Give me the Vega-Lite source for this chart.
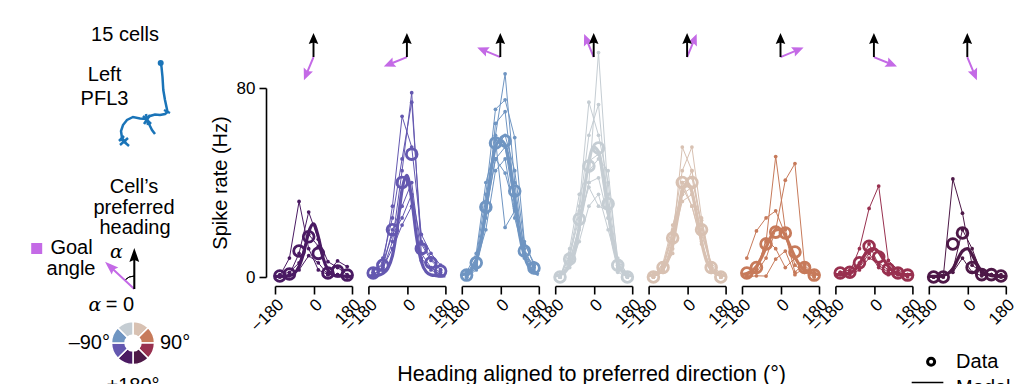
{
  "$schema": "https://vega.github.io/schema/vega-lite/v6.json",
  "background": "white",
  "padding": {"left": 0, "top": 24, "right": 0, "bottom": 0},
  "bounds": "flush",
  "spacing": 35,
  "resolve": {"scale": {"x": "independent", "y": "independent", "color": "independent"}},
  "config": {
    "font": "Liberation Sans",
    "view": {"stroke": null},
    "axis": {"domainColor": "black", "tickColor": "black", "labelColor": "black", "titleColor": "black", "domainWidth": 1.6, "tickWidth": 1.6, "grid": false, "labelFont": "Liberation Sans", "titleFont": "Liberation Sans", "titleFontWeight": "normal"},
    "axisX": {"labelAngle": -45, "labelFontSize": 17, "tickSize": 8, "labelPadding": 2, "offset": 9, "labelFlush": false, "labelOverlap": false},
    "axisY": {"titleFontSize": 20, "labelFontSize": 17, "tickSize": 7, "labelPadding": 4, "titlePadding": 6, "offset": 9, "labelFlush": false},
    "text": {"font": "Liberation Sans", "fontSize": 20, "color": "black"}
  },
  "datasets": {
    "main": [
      {"kind":"cell","p":1,"k":1,"h":-157.5,"r":0.5},{"kind":"cell","p":1,"k":1,"h":-112.5,"r":8},{"kind":"cell","p":1,"k":1,"h":-67.5,"r":32},{"kind":"cell","p":1,"k":1,"h":-22.5,"r":12},{"kind":"cell","p":1,"k":1,"h":22.5,"r":3},{"kind":"cell","p":1,"k":1,"h":67.5,"r":1},{"kind":"cell","p":1,"k":1,"h":112.5,"r":1},{"kind":"cell","p":1,"k":1,"h":157.5,"r":0},
      {"kind":"cell","p":1,"k":2,"h":-157.5,"r":0},{"kind":"cell","p":1,"k":2,"h":-112.5,"r":1},{"kind":"cell","p":1,"k":2,"h":-67.5,"r":10},{"kind":"cell","p":1,"k":2,"h":-22.5,"r":27.5},{"kind":"cell","p":1,"k":2,"h":22.5,"r":16},{"kind":"cell","p":1,"k":2,"h":67.5,"r":6.5},{"kind":"cell","p":1,"k":2,"h":112.5,"r":4},{"kind":"cell","p":1,"k":2,"h":157.5,"r":1},
      {"kind":"cell","p":1,"k":3,"h":-157.5,"r":1},{"kind":"cell","p":1,"k":3,"h":-112.5,"r":2},{"kind":"cell","p":1,"k":3,"h":-67.5,"r":6},{"kind":"cell","p":1,"k":3,"h":-22.5,"r":18},{"kind":"cell","p":1,"k":3,"h":22.5,"r":13},{"kind":"cell","p":1,"k":3,"h":67.5,"r":2},{"kind":"cell","p":1,"k":3,"h":112.5,"r":6.8},{"kind":"cell","p":1,"k":3,"h":157.5,"r":4.4},
      {"kind":"cell","p":1,"k":4,"h":-157.5,"r":0},{"kind":"cell","p":1,"k":4,"h":-112.5,"r":0.5},{"kind":"cell","p":1,"k":4,"h":-67.5,"r":3},{"kind":"cell","p":1,"k":4,"h":-22.5,"r":9},{"kind":"cell","p":1,"k":4,"h":22.5,"r":6},{"kind":"cell","p":1,"k":4,"h":67.5,"r":1},{"kind":"cell","p":1,"k":4,"h":112.5,"r":1},{"kind":"cell","p":1,"k":4,"h":157.5,"r":0},
      {"kind":"cell","p":2,"k":1,"h":-157.5,"r":1},{"kind":"cell","p":2,"k":1,"h":-112.5,"r":3},{"kind":"cell","p":2,"k":1,"h":-67.5,"r":15},{"kind":"cell","p":2,"k":1,"h":-22.5,"r":45},{"kind":"cell","p":2,"k":1,"h":22.5,"r":78},{"kind":"cell","p":2,"k":1,"h":67.5,"r":10},{"kind":"cell","p":2,"k":1,"h":112.5,"r":4},{"kind":"cell","p":2,"k":1,"h":157.5,"r":2},
      {"kind":"cell","p":2,"k":2,"h":-157.5,"r":2},{"kind":"cell","p":2,"k":2,"h":-112.5,"r":8},{"kind":"cell","p":2,"k":2,"h":-67.5,"r":25},{"kind":"cell","p":2,"k":2,"h":-22.5,"r":50},{"kind":"cell","p":2,"k":2,"h":22.5,"r":74},{"kind":"cell","p":2,"k":2,"h":67.5,"r":15},{"kind":"cell","p":2,"k":2,"h":112.5,"r":8},{"kind":"cell","p":2,"k":2,"h":157.5,"r":3},
      {"kind":"cell","p":2,"k":3,"h":-157.5,"r":3},{"kind":"cell","p":2,"k":3,"h":-112.5,"r":5},{"kind":"cell","p":2,"k":3,"h":-67.5,"r":30},{"kind":"cell","p":2,"k":3,"h":-22.5,"r":68},{"kind":"cell","p":2,"k":3,"h":22.5,"r":55},{"kind":"cell","p":2,"k":3,"h":67.5,"r":18},{"kind":"cell","p":2,"k":3,"h":112.5,"r":10},{"kind":"cell","p":2,"k":3,"h":157.5,"r":5},
      {"kind":"cell","p":2,"k":4,"h":-157.5,"r":1},{"kind":"cell","p":2,"k":4,"h":-112.5,"r":4},{"kind":"cell","p":2,"k":4,"h":-67.5,"r":20},{"kind":"cell","p":2,"k":4,"h":-22.5,"r":30},{"kind":"cell","p":2,"k":4,"h":22.5,"r":40},{"kind":"cell","p":2,"k":4,"h":67.5,"r":8},{"kind":"cell","p":2,"k":4,"h":112.5,"r":3},{"kind":"cell","p":2,"k":4,"h":157.5,"r":1},
      {"kind":"cell","p":2,"k":5,"h":-157.5,"r":2},{"kind":"cell","p":2,"k":5,"h":-112.5,"r":6},{"kind":"cell","p":2,"k":5,"h":-67.5,"r":18},{"kind":"cell","p":2,"k":5,"h":-22.5,"r":25},{"kind":"cell","p":2,"k":5,"h":22.5,"r":35},{"kind":"cell","p":2,"k":5,"h":67.5,"r":14},{"kind":"cell","p":2,"k":5,"h":112.5,"r":7},{"kind":"cell","p":2,"k":5,"h":157.5,"r":3},
      {"kind":"cell","p":2,"k":6,"h":-157.5,"r":1},{"kind":"cell","p":2,"k":6,"h":-112.5,"r":4},{"kind":"cell","p":2,"k":6,"h":-67.5,"r":12},{"kind":"cell","p":2,"k":6,"h":-22.5,"r":22},{"kind":"cell","p":2,"k":6,"h":22.5,"r":30},{"kind":"cell","p":2,"k":6,"h":67.5,"r":7},{"kind":"cell","p":2,"k":6,"h":112.5,"r":4},{"kind":"cell","p":2,"k":6,"h":157.5,"r":1},
      {"kind":"cell","p":3,"k":1,"h":-157.5,"r":0},{"kind":"cell","p":3,"k":1,"h":-112.5,"r":5},{"kind":"cell","p":3,"k":1,"h":-67.5,"r":30},{"kind":"cell","p":3,"k":1,"h":-22.5,"r":60},{"kind":"cell","p":3,"k":1,"h":22.5,"r":86},{"kind":"cell","p":3,"k":1,"h":67.5,"r":40},{"kind":"cell","p":3,"k":1,"h":112.5,"r":10},{"kind":"cell","p":3,"k":1,"h":157.5,"r":2},
      {"kind":"cell","p":3,"k":2,"h":-157.5,"r":1},{"kind":"cell","p":3,"k":2,"h":-112.5,"r":8},{"kind":"cell","p":3,"k":2,"h":-67.5,"r":35},{"kind":"cell","p":3,"k":2,"h":-22.5,"r":71},{"kind":"cell","p":3,"k":2,"h":22.5,"r":75},{"kind":"cell","p":3,"k":2,"h":67.5,"r":59},{"kind":"cell","p":3,"k":2,"h":112.5,"r":15},{"kind":"cell","p":3,"k":2,"h":157.5,"r":5},
      {"kind":"cell","p":3,"k":3,"h":-157.5,"r":0},{"kind":"cell","p":3,"k":3,"h":-112.5,"r":4},{"kind":"cell","p":3,"k":3,"h":-67.5,"r":25},{"kind":"cell","p":3,"k":3,"h":-22.5,"r":65},{"kind":"cell","p":3,"k":3,"h":22.5,"r":70},{"kind":"cell","p":3,"k":3,"h":67.5,"r":35},{"kind":"cell","p":3,"k":3,"h":112.5,"r":12},{"kind":"cell","p":3,"k":3,"h":157.5,"r":3},
      {"kind":"cell","p":3,"k":4,"h":-157.5,"r":2},{"kind":"cell","p":3,"k":4,"h":-112.5,"r":10},{"kind":"cell","p":3,"k":4,"h":-67.5,"r":40},{"kind":"cell","p":3,"k":4,"h":-22.5,"r":55},{"kind":"cell","p":3,"k":4,"h":22.5,"r":60},{"kind":"cell","p":3,"k":4,"h":67.5,"r":45},{"kind":"cell","p":3,"k":4,"h":112.5,"r":14},{"kind":"cell","p":3,"k":4,"h":157.5,"r":6},
      {"kind":"cell","p":3,"k":5,"h":-157.5,"r":0},{"kind":"cell","p":3,"k":5,"h":-112.5,"r":3},{"kind":"cell","p":3,"k":5,"h":-67.5,"r":28},{"kind":"cell","p":3,"k":5,"h":-22.5,"r":50},{"kind":"cell","p":3,"k":5,"h":22.5,"r":55},{"kind":"cell","p":3,"k":5,"h":67.5,"r":30},{"kind":"cell","p":3,"k":5,"h":112.5,"r":8},{"kind":"cell","p":3,"k":5,"h":157.5,"r":2},
      {"kind":"cell","p":3,"k":6,"h":-157.5,"r":1},{"kind":"cell","p":3,"k":6,"h":-112.5,"r":6},{"kind":"cell","p":3,"k":6,"h":-67.5,"r":20},{"kind":"cell","p":3,"k":6,"h":-22.5,"r":45},{"kind":"cell","p":3,"k":6,"h":22.5,"r":50},{"kind":"cell","p":3,"k":6,"h":67.5,"r":25},{"kind":"cell","p":3,"k":6,"h":112.5,"r":9},{"kind":"cell","p":3,"k":6,"h":157.5,"r":4},
      {"kind":"cell","p":3,"k":7,"h":-157.5,"r":0},{"kind":"cell","p":3,"k":7,"h":-112.5,"r":4},{"kind":"cell","p":3,"k":7,"h":-67.5,"r":32},{"kind":"cell","p":3,"k":7,"h":-22.5,"r":58},{"kind":"cell","p":3,"k":7,"h":22.5,"r":21},{"kind":"cell","p":3,"k":7,"h":67.5,"r":28},{"kind":"cell","p":3,"k":7,"h":112.5,"r":10},{"kind":"cell","p":3,"k":7,"h":157.5,"r":5},
      {"kind":"cell","p":3,"k":8,"h":-157.5,"r":1},{"kind":"cell","p":3,"k":8,"h":-112.5,"r":8},{"kind":"cell","p":3,"k":8,"h":-67.5,"r":27},{"kind":"cell","p":3,"k":8,"h":-22.5,"r":50},{"kind":"cell","p":3,"k":8,"h":22.5,"r":44},{"kind":"cell","p":3,"k":8,"h":67.5,"r":29},{"kind":"cell","p":3,"k":8,"h":112.5,"r":10},{"kind":"cell","p":3,"k":8,"h":157.5,"r":4},
      {"kind":"cell","p":4,"k":1,"h":-157.5,"r":0},{"kind":"cell","p":4,"k":1,"h":-112.5,"r":5},{"kind":"cell","p":4,"k":1,"h":-67.5,"r":20},{"kind":"cell","p":4,"k":1,"h":-22.5,"r":40},{"kind":"cell","p":4,"k":1,"h":22.5,"r":95},{"kind":"cell","p":4,"k":1,"h":67.5,"r":35},{"kind":"cell","p":4,"k":1,"h":112.5,"r":5},{"kind":"cell","p":4,"k":1,"h":157.5,"r":0},
      {"kind":"cell","p":4,"k":2,"h":-157.5,"r":0},{"kind":"cell","p":4,"k":2,"h":-112.5,"r":10},{"kind":"cell","p":4,"k":2,"h":-67.5,"r":30},{"kind":"cell","p":4,"k":2,"h":-22.5,"r":74},{"kind":"cell","p":4,"k":2,"h":22.5,"r":60},{"kind":"cell","p":4,"k":2,"h":67.5,"r":40},{"kind":"cell","p":4,"k":2,"h":112.5,"r":8},{"kind":"cell","p":4,"k":2,"h":157.5,"r":1},
      {"kind":"cell","p":4,"k":3,"h":-157.5,"r":1},{"kind":"cell","p":4,"k":3,"h":-112.5,"r":8},{"kind":"cell","p":4,"k":3,"h":-67.5,"r":28},{"kind":"cell","p":4,"k":3,"h":-22.5,"r":60},{"kind":"cell","p":4,"k":3,"h":22.5,"r":73},{"kind":"cell","p":4,"k":3,"h":67.5,"r":30},{"kind":"cell","p":4,"k":3,"h":112.5,"r":4},{"kind":"cell","p":4,"k":3,"h":157.5,"r":0},
      {"kind":"cell","p":4,"k":4,"h":-157.5,"r":0},{"kind":"cell","p":4,"k":4,"h":-112.5,"r":12},{"kind":"cell","p":4,"k":4,"h":-67.5,"r":35},{"kind":"cell","p":4,"k":4,"h":-22.5,"r":45},{"kind":"cell","p":4,"k":4,"h":22.5,"r":50},{"kind":"cell","p":4,"k":4,"h":67.5,"r":45},{"kind":"cell","p":4,"k":4,"h":112.5,"r":6},{"kind":"cell","p":4,"k":4,"h":157.5,"r":0},
      {"kind":"cell","p":4,"k":5,"h":-157.5,"r":0},{"kind":"cell","p":4,"k":5,"h":-112.5,"r":6},{"kind":"cell","p":4,"k":5,"h":-67.5,"r":22},{"kind":"cell","p":4,"k":5,"h":-22.5,"r":40},{"kind":"cell","p":4,"k":5,"h":22.5,"r":42},{"kind":"cell","p":4,"k":5,"h":67.5,"r":25},{"kind":"cell","p":4,"k":5,"h":112.5,"r":3},{"kind":"cell","p":4,"k":5,"h":157.5,"r":0},
      {"kind":"cell","p":4,"k":6,"h":-157.5,"r":0},{"kind":"cell","p":4,"k":6,"h":-112.5,"r":4},{"kind":"cell","p":4,"k":6,"h":-67.5,"r":15},{"kind":"cell","p":4,"k":6,"h":-22.5,"r":30},{"kind":"cell","p":4,"k":6,"h":22.5,"r":35},{"kind":"cell","p":4,"k":6,"h":67.5,"r":20},{"kind":"cell","p":4,"k":6,"h":112.5,"r":5},{"kind":"cell","p":4,"k":6,"h":157.5,"r":0},
      {"kind":"cell","p":4,"k":7,"h":-157.5,"r":0},{"kind":"cell","p":4,"k":7,"h":-112.5,"r":9},{"kind":"cell","p":4,"k":7,"h":-67.5,"r":25},{"kind":"cell","p":4,"k":7,"h":-22.5,"r":38},{"kind":"cell","p":4,"k":7,"h":22.5,"r":30},{"kind":"cell","p":4,"k":7,"h":67.5,"r":28},{"kind":"cell","p":4,"k":7,"h":112.5,"r":7},{"kind":"cell","p":4,"k":7,"h":157.5,"r":1},
      {"kind":"cell","p":4,"k":8,"h":-157.5,"r":0},{"kind":"cell","p":4,"k":8,"h":-112.5,"r":7},{"kind":"cell","p":4,"k":8,"h":-67.5,"r":21},{"kind":"cell","p":4,"k":8,"h":-22.5,"r":49},{"kind":"cell","p":4,"k":8,"h":22.5,"r":52},{"kind":"cell","p":4,"k":8,"h":67.5,"r":25},{"kind":"cell","p":4,"k":8,"h":112.5,"r":2},{"kind":"cell","p":4,"k":8,"h":157.5,"r":0},
      {"kind":"cell","p":5,"k":1,"h":-157.5,"r":0},{"kind":"cell","p":5,"k":1,"h":-112.5,"r":3},{"kind":"cell","p":5,"k":1,"h":-67.5,"r":15},{"kind":"cell","p":5,"k":1,"h":-22.5,"r":55},{"kind":"cell","p":5,"k":1,"h":22.5,"r":45},{"kind":"cell","p":5,"k":1,"h":67.5,"r":20},{"kind":"cell","p":5,"k":1,"h":112.5,"r":3},{"kind":"cell","p":5,"k":1,"h":157.5,"r":0},
      {"kind":"cell","p":5,"k":2,"h":-157.5,"r":0},{"kind":"cell","p":5,"k":2,"h":-112.5,"r":5},{"kind":"cell","p":5,"k":2,"h":-67.5,"r":20},{"kind":"cell","p":5,"k":2,"h":-22.5,"r":45},{"kind":"cell","p":5,"k":2,"h":22.5,"r":55},{"kind":"cell","p":5,"k":2,"h":67.5,"r":25},{"kind":"cell","p":5,"k":2,"h":112.5,"r":5},{"kind":"cell","p":5,"k":2,"h":157.5,"r":0},
      {"kind":"cell","p":5,"k":3,"h":-157.5,"r":0},{"kind":"cell","p":5,"k":3,"h":-112.5,"r":4},{"kind":"cell","p":5,"k":3,"h":-67.5,"r":18},{"kind":"cell","p":5,"k":3,"h":-22.5,"r":40},{"kind":"cell","p":5,"k":3,"h":22.5,"r":42},{"kind":"cell","p":5,"k":3,"h":67.5,"r":22},{"kind":"cell","p":5,"k":3,"h":112.5,"r":4},{"kind":"cell","p":5,"k":3,"h":157.5,"r":0},
      {"kind":"cell","p":5,"k":4,"h":-157.5,"r":0},{"kind":"cell","p":5,"k":4,"h":-112.5,"r":6},{"kind":"cell","p":5,"k":4,"h":-67.5,"r":22},{"kind":"cell","p":5,"k":4,"h":-22.5,"r":35},{"kind":"cell","p":5,"k":4,"h":22.5,"r":38},{"kind":"cell","p":5,"k":4,"h":67.5,"r":18},{"kind":"cell","p":5,"k":4,"h":112.5,"r":6},{"kind":"cell","p":5,"k":4,"h":157.5,"r":1},
      {"kind":"cell","p":5,"k":5,"h":-157.5,"r":0},{"kind":"cell","p":5,"k":5,"h":-112.5,"r":2},{"kind":"cell","p":5,"k":5,"h":-67.5,"r":12},{"kind":"cell","p":5,"k":5,"h":-22.5,"r":38},{"kind":"cell","p":5,"k":5,"h":22.5,"r":30},{"kind":"cell","p":5,"k":5,"h":67.5,"r":15},{"kind":"cell","p":5,"k":5,"h":112.5,"r":2},{"kind":"cell","p":5,"k":5,"h":157.5,"r":0},
      {"kind":"cell","p":5,"k":6,"h":-157.5,"r":1},{"kind":"cell","p":5,"k":6,"h":-112.5,"r":5},{"kind":"cell","p":5,"k":6,"h":-67.5,"r":16},{"kind":"cell","p":5,"k":6,"h":-22.5,"r":32},{"kind":"cell","p":5,"k":6,"h":22.5,"r":35},{"kind":"cell","p":5,"k":6,"h":67.5,"r":24},{"kind":"cell","p":5,"k":6,"h":112.5,"r":4},{"kind":"cell","p":5,"k":6,"h":157.5,"r":0},
      {"kind":"cell","p":5,"k":7,"h":-157.5,"r":0},{"kind":"cell","p":5,"k":7,"h":-112.5,"r":3},{"kind":"cell","p":5,"k":7,"h":-67.5,"r":10},{"kind":"cell","p":5,"k":7,"h":-22.5,"r":40},{"kind":"cell","p":5,"k":7,"h":22.5,"r":30},{"kind":"cell","p":5,"k":7,"h":67.5,"r":14},{"kind":"cell","p":5,"k":7,"h":112.5,"r":3},{"kind":"cell","p":5,"k":7,"h":157.5,"r":0},
      {"kind":"cell","p":5,"k":8,"h":-157.5,"r":0},{"kind":"cell","p":5,"k":8,"h":-112.5,"r":4},{"kind":"cell","p":5,"k":8,"h":-67.5,"r":19},{"kind":"cell","p":5,"k":8,"h":-22.5,"r":35},{"kind":"cell","p":5,"k":8,"h":22.5,"r":45},{"kind":"cell","p":5,"k":8,"h":67.5,"r":22},{"kind":"cell","p":5,"k":8,"h":112.5,"r":5},{"kind":"cell","p":5,"k":8,"h":157.5,"r":0},
      {"kind":"cell","p":6,"k":1,"h":-157.5,"r":0},{"kind":"cell","p":6,"k":1,"h":-112.5,"r":3},{"kind":"cell","p":6,"k":1,"h":-67.5,"r":15},{"kind":"cell","p":6,"k":1,"h":-22.5,"r":51},{"kind":"cell","p":6,"k":1,"h":22.5,"r":20},{"kind":"cell","p":6,"k":1,"h":67.5,"r":5},{"kind":"cell","p":6,"k":1,"h":112.5,"r":2},{"kind":"cell","p":6,"k":1,"h":157.5,"r":0},
      {"kind":"cell","p":6,"k":2,"h":-157.5,"r":1},{"kind":"cell","p":6,"k":2,"h":-112.5,"r":2},{"kind":"cell","p":6,"k":2,"h":-67.5,"r":8},{"kind":"cell","p":6,"k":2,"h":-22.5,"r":20},{"kind":"cell","p":6,"k":2,"h":22.5,"r":41},{"kind":"cell","p":6,"k":2,"h":67.5,"r":48},{"kind":"cell","p":6,"k":2,"h":112.5,"r":5},{"kind":"cell","p":6,"k":2,"h":157.5,"r":1},
      {"kind":"cell","p":6,"k":3,"h":-157.5,"r":8},{"kind":"cell","p":6,"k":3,"h":-112.5,"r":19.5},{"kind":"cell","p":6,"k":3,"h":-67.5,"r":25},{"kind":"cell","p":6,"k":3,"h":-22.5,"r":28},{"kind":"cell","p":6,"k":3,"h":22.5,"r":18},{"kind":"cell","p":6,"k":3,"h":67.5,"r":2},{"kind":"cell","p":6,"k":3,"h":112.5,"r":6},{"kind":"cell","p":6,"k":3,"h":157.5,"r":2},
      {"kind":"cell","p":6,"k":4,"h":-157.5,"r":0},{"kind":"cell","p":6,"k":4,"h":-112.5,"r":0.5},{"kind":"cell","p":6,"k":4,"h":-67.5,"r":0.4},{"kind":"cell","p":6,"k":4,"h":-22.5,"r":7.6},{"kind":"cell","p":6,"k":4,"h":22.5,"r":11},{"kind":"cell","p":6,"k":4,"h":67.5,"r":1},{"kind":"cell","p":6,"k":4,"h":112.5,"r":4},{"kind":"cell","p":6,"k":4,"h":157.5,"r":1},
      {"kind":"cell","p":6,"k":5,"h":-157.5,"r":0},{"kind":"cell","p":6,"k":5,"h":-112.5,"r":2},{"kind":"cell","p":6,"k":5,"h":-67.5,"r":16},{"kind":"cell","p":6,"k":5,"h":-22.5,"r":12},{"kind":"cell","p":6,"k":5,"h":22.5,"r":4},{"kind":"cell","p":6,"k":5,"h":67.5,"r":8},{"kind":"cell","p":6,"k":5,"h":112.5,"r":3},{"kind":"cell","p":6,"k":5,"h":157.5,"r":0},
      {"kind":"cell","p":7,"k":1,"h":-157.5,"r":1},{"kind":"cell","p":7,"k":1,"h":-112.5,"r":2},{"kind":"cell","p":7,"k":1,"h":-67.5,"r":12},{"kind":"cell","p":7,"k":1,"h":-22.5,"r":29},{"kind":"cell","p":7,"k":1,"h":22.5,"r":38.5},{"kind":"cell","p":7,"k":1,"h":67.5,"r":7},{"kind":"cell","p":7,"k":1,"h":112.5,"r":3},{"kind":"cell","p":7,"k":1,"h":157.5,"r":1},
      {"kind":"cell","p":7,"k":2,"h":-157.5,"r":2},{"kind":"cell","p":7,"k":2,"h":-112.5,"r":3},{"kind":"cell","p":7,"k":2,"h":-67.5,"r":6},{"kind":"cell","p":7,"k":2,"h":-22.5,"r":14},{"kind":"cell","p":7,"k":2,"h":22.5,"r":5},{"kind":"cell","p":7,"k":2,"h":67.5,"r":2},{"kind":"cell","p":7,"k":2,"h":112.5,"r":1},{"kind":"cell","p":7,"k":2,"h":157.5,"r":0},
      {"kind":"cell","p":7,"k":3,"h":-157.5,"r":1},{"kind":"cell","p":7,"k":3,"h":-112.5,"r":1},{"kind":"cell","p":7,"k":3,"h":-67.5,"r":3},{"kind":"cell","p":7,"k":3,"h":-22.5,"r":8},{"kind":"cell","p":7,"k":3,"h":22.5,"r":6},{"kind":"cell","p":7,"k":3,"h":67.5,"r":3},{"kind":"cell","p":7,"k":3,"h":112.5,"r":2},{"kind":"cell","p":7,"k":3,"h":157.5,"r":1},
      {"kind":"cell","p":7,"k":4,"h":-157.5,"r":2},{"kind":"cell","p":7,"k":4,"h":-112.5,"r":2},{"kind":"cell","p":7,"k":4,"h":-67.5,"r":4},{"kind":"cell","p":7,"k":4,"h":-22.5,"r":10},{"kind":"cell","p":7,"k":4,"h":22.5,"r":4},{"kind":"cell","p":7,"k":4,"h":67.5,"r":1},{"kind":"cell","p":7,"k":4,"h":112.5,"r":1},{"kind":"cell","p":7,"k":4,"h":157.5,"r":1},
      {"kind":"cell","p":8,"k":1,"h":-157.5,"r":0},{"kind":"cell","p":8,"k":1,"h":-112.5,"r":0},{"kind":"cell","p":8,"k":1,"h":-67.5,"r":41.5},{"kind":"cell","p":8,"k":1,"h":-22.5,"r":27},{"kind":"cell","p":8,"k":1,"h":22.5,"r":5},{"kind":"cell","p":8,"k":1,"h":67.5,"r":2},{"kind":"cell","p":8,"k":1,"h":112.5,"r":1},{"kind":"cell","p":8,"k":1,"h":157.5,"r":0},
      {"kind":"cell","p":8,"k":2,"h":-157.5,"r":0},{"kind":"cell","p":8,"k":2,"h":-112.5,"r":0},{"kind":"cell","p":8,"k":2,"h":-67.5,"r":3},{"kind":"cell","p":8,"k":2,"h":-22.5,"r":20},{"kind":"cell","p":8,"k":2,"h":22.5,"r":12},{"kind":"cell","p":8,"k":2,"h":67.5,"r":1},{"kind":"cell","p":8,"k":2,"h":112.5,"r":1},{"kind":"cell","p":8,"k":2,"h":157.5,"r":1},
      {"kind":"cell","p":8,"k":3,"h":-157.5,"r":0},{"kind":"cell","p":8,"k":3,"h":-112.5,"r":0.5},{"kind":"cell","p":8,"k":3,"h":-67.5,"r":2},{"kind":"cell","p":8,"k":3,"h":-22.5,"r":8},{"kind":"cell","p":8,"k":3,"h":22.5,"r":2},{"kind":"cell","p":8,"k":3,"h":67.5,"r":0.5},{"kind":"cell","p":8,"k":3,"h":112.5,"r":1},{"kind":"cell","p":8,"k":3,"h":157.5,"r":0},

      {"kind":"mean","p":1,"h":-157.5,"r":0.4},{"kind":"mean","p":1,"h":-112.5,"r":1.3},{"kind":"mean","p":1,"h":-67.5,"r":11},{"kind":"mean","p":1,"h":-22.5,"r":17},{"kind":"mean","p":1,"h":22.5,"r":10},{"kind":"mean","p":1,"h":67.5,"r":1.7},{"kind":"mean","p":1,"h":112.5,"r":2.5},{"kind":"mean","p":1,"h":157.5,"r":0.8},
      {"kind":"mean","p":2,"h":-157.5,"r":1.7},{"kind":"mean","p":2,"h":-112.5,"r":5},{"kind":"mean","p":2,"h":-67.5,"r":20},{"kind":"mean","p":2,"h":-22.5,"r":40},{"kind":"mean","p":2,"h":22.5,"r":52},{"kind":"mean","p":2,"h":67.5,"r":12},{"kind":"mean","p":2,"h":112.5,"r":6},{"kind":"mean","p":2,"h":157.5,"r":2.5},
      {"kind":"mean","p":3,"h":-157.5,"r":0.8},{"kind":"mean","p":3,"h":-112.5,"r":6},{"kind":"mean","p":3,"h":-67.5,"r":29.6},{"kind":"mean","p":3,"h":-22.5,"r":56.7},{"kind":"mean","p":3,"h":22.5,"r":57.6},{"kind":"mean","p":3,"h":67.5,"r":36.4},{"kind":"mean","p":3,"h":112.5,"r":11},{"kind":"mean","p":3,"h":157.5,"r":3.8},
      {"kind":"mean","p":4,"h":-157.5,"r":0},{"kind":"mean","p":4,"h":-112.5,"r":7.6},{"kind":"mean","p":4,"h":-67.5,"r":24.5},{"kind":"mean","p":4,"h":-22.5,"r":47},{"kind":"mean","p":4,"h":22.5,"r":54.6},{"kind":"mean","p":4,"h":67.5,"r":31},{"kind":"mean","p":4,"h":112.5,"r":5},{"kind":"mean","p":4,"h":157.5,"r":0},
      {"kind":"mean","p":5,"h":-157.5,"r":0},{"kind":"mean","p":5,"h":-112.5,"r":4},{"kind":"mean","p":5,"h":-67.5,"r":16.5},{"kind":"mean","p":5,"h":-22.5,"r":40},{"kind":"mean","p":5,"h":22.5,"r":40},{"kind":"mean","p":5,"h":67.5,"r":20},{"kind":"mean","p":5,"h":112.5,"r":4},{"kind":"mean","p":5,"h":157.5,"r":0},
      {"kind":"mean","p":6,"h":-157.5,"r":1.7},{"kind":"mean","p":6,"h":-112.5,"r":4},{"kind":"mean","p":6,"h":-67.5,"r":14},{"kind":"mean","p":6,"h":-22.5,"r":19},{"kind":"mean","p":6,"h":22.5,"r":18.6},{"kind":"mean","p":6,"h":67.5,"r":10.6},{"kind":"mean","p":6,"h":112.5,"r":4},{"kind":"mean","p":6,"h":157.5,"r":0.8},
      {"kind":"mean","p":7,"h":-157.5,"r":1.7},{"kind":"mean","p":7,"h":-112.5,"r":2},{"kind":"mean","p":7,"h":-67.5,"r":6},{"kind":"mean","p":7,"h":-22.5,"r":13},{"kind":"mean","p":7,"h":22.5,"r":8.5},{"kind":"mean","p":7,"h":67.5,"r":3.4},{"kind":"mean","p":7,"h":112.5,"r":1.7},{"kind":"mean","p":7,"h":157.5,"r":0.8},
      {"kind":"mean","p":8,"h":-157.5,"r":0},{"kind":"mean","p":8,"h":-112.5,"r":0},{"kind":"mean","p":8,"h":-67.5,"r":14},{"kind":"mean","p":8,"h":-22.5,"r":18.6},{"kind":"mean","p":8,"h":22.5,"r":4},{"kind":"mean","p":8,"h":67.5,"r":1},{"kind":"mean","p":8,"h":112.5,"r":1},{"kind":"mean","p":8,"h":157.5,"r":0.4},

      {"kind":"model","p":1,"h":-180,"r":0.3},{"kind":"model","p":1,"h":-157.5,"r":0.3},{"kind":"model","p":1,"h":-135,"r":0.4},{"kind":"model","p":1,"h":-112.5,"r":0.6},{"kind":"model","p":1,"h":-90,"r":1.5},{"kind":"model","p":1,"h":-67.5,"r":4.5},{"kind":"model","p":1,"h":-45,"r":10.5},{"kind":"model","p":1,"h":-22.5,"r":19},{"kind":"model","p":1,"h":0,"r":22.5},{"kind":"model","p":1,"h":22.5,"r":17},{"kind":"model","p":1,"h":45,"r":8},{"kind":"model","p":1,"h":67.5,"r":3},{"kind":"model","p":1,"h":90,"r":1},{"kind":"model","p":1,"h":112.5,"r":0.5},{"kind":"model","p":1,"h":135,"r":0.4},{"kind":"model","p":1,"h":157.5,"r":0.3},{"kind":"model","p":1,"h":180,"r":0.3},
      {"kind":"model","p":2,"h":-180,"r":0.5},{"kind":"model","p":2,"h":-157.5,"r":0.5},{"kind":"model","p":2,"h":-135,"r":0.7},{"kind":"model","p":2,"h":-112.5,"r":1.5},{"kind":"model","p":2,"h":-90,"r":3.5},{"kind":"model","p":2,"h":-67.5,"r":9},{"kind":"model","p":2,"h":-45,"r":21},{"kind":"model","p":2,"h":-22.5,"r":37},{"kind":"model","p":2,"h":0,"r":43},{"kind":"model","p":2,"h":22.5,"r":33},{"kind":"model","p":2,"h":45,"r":17},{"kind":"model","p":2,"h":67.5,"r":6.5},{"kind":"model","p":2,"h":90,"r":2.2},{"kind":"model","p":2,"h":112.5,"r":0.9},{"kind":"model","p":2,"h":135,"r":0.6},{"kind":"model","p":2,"h":157.5,"r":0.5},{"kind":"model","p":2,"h":180,"r":0.5},
      {"kind":"model","p":3,"h":-180,"r":1},{"kind":"model","p":3,"h":-157.5,"r":1.5},{"kind":"model","p":3,"h":-135,"r":3},{"kind":"model","p":3,"h":-112.5,"r":7},{"kind":"model","p":3,"h":-90,"r":15},{"kind":"model","p":3,"h":-67.5,"r":28},{"kind":"model","p":3,"h":-45,"r":44},{"kind":"model","p":3,"h":-22.5,"r":55},{"kind":"model","p":3,"h":0,"r":58},{"kind":"model","p":3,"h":22.5,"r":56},{"kind":"model","p":3,"h":45,"r":47},{"kind":"model","p":3,"h":67.5,"r":33},{"kind":"model","p":3,"h":90,"r":18},{"kind":"model","p":3,"h":112.5,"r":9},{"kind":"model","p":3,"h":135,"r":4},{"kind":"model","p":3,"h":157.5,"r":2},{"kind":"model","p":3,"h":180,"r":1},
      {"kind":"model","p":4,"h":-180,"r":0.5},{"kind":"model","p":4,"h":-157.5,"r":1},{"kind":"model","p":4,"h":-135,"r":2},{"kind":"model","p":4,"h":-112.5,"r":5},{"kind":"model","p":4,"h":-90,"r":10},{"kind":"model","p":4,"h":-67.5,"r":21},{"kind":"model","p":4,"h":-45,"r":36},{"kind":"model","p":4,"h":-22.5,"r":49},{"kind":"model","p":4,"h":0,"r":55},{"kind":"model","p":4,"h":22.5,"r":53},{"kind":"model","p":4,"h":45,"r":43},{"kind":"model","p":4,"h":67.5,"r":28},{"kind":"model","p":4,"h":90,"r":14},{"kind":"model","p":4,"h":112.5,"r":6},{"kind":"model","p":4,"h":135,"r":2.5},{"kind":"model","p":4,"h":157.5,"r":1},{"kind":"model","p":4,"h":180,"r":0.5},
      {"kind":"model","p":5,"h":-180,"r":0.5},{"kind":"model","p":5,"h":-157.5,"r":1},{"kind":"model","p":5,"h":-135,"r":1.5},{"kind":"model","p":5,"h":-112.5,"r":3.5},{"kind":"model","p":5,"h":-90,"r":7},{"kind":"model","p":5,"h":-67.5,"r":14},{"kind":"model","p":5,"h":-45,"r":25},{"kind":"model","p":5,"h":-22.5,"r":36},{"kind":"model","p":5,"h":0,"r":40},{"kind":"model","p":5,"h":22.5,"r":36},{"kind":"model","p":5,"h":45,"r":26},{"kind":"model","p":5,"h":67.5,"r":15},{"kind":"model","p":5,"h":90,"r":7},{"kind":"model","p":5,"h":112.5,"r":3},{"kind":"model","p":5,"h":135,"r":1.5},{"kind":"model","p":5,"h":157.5,"r":1},{"kind":"model","p":5,"h":180,"r":0.5},
      {"kind":"model","p":6,"h":-180,"r":1},{"kind":"model","p":6,"h":-157.5,"r":1.5},{"kind":"model","p":6,"h":-135,"r":2.5},{"kind":"model","p":6,"h":-112.5,"r":4.5},{"kind":"model","p":6,"h":-90,"r":8},{"kind":"model","p":6,"h":-67.5,"r":12.5},{"kind":"model","p":6,"h":-45,"r":17},{"kind":"model","p":6,"h":-22.5,"r":20},{"kind":"model","p":6,"h":0,"r":20},{"kind":"model","p":6,"h":22.5,"r":17.5},{"kind":"model","p":6,"h":45,"r":13},{"kind":"model","p":6,"h":67.5,"r":8.5},{"kind":"model","p":6,"h":90,"r":5},{"kind":"model","p":6,"h":112.5,"r":3},{"kind":"model","p":6,"h":135,"r":2},{"kind":"model","p":6,"h":157.5,"r":1.5},{"kind":"model","p":6,"h":180,"r":1},
      {"kind":"model","p":7,"h":-180,"r":1},{"kind":"model","p":7,"h":-157.5,"r":1},{"kind":"model","p":7,"h":-135,"r":1.2},{"kind":"model","p":7,"h":-112.5,"r":1.8},{"kind":"model","p":7,"h":-90,"r":3},{"kind":"model","p":7,"h":-67.5,"r":5.5},{"kind":"model","p":7,"h":-45,"r":9},{"kind":"model","p":7,"h":-22.5,"r":11.5},{"kind":"model","p":7,"h":0,"r":12},{"kind":"model","p":7,"h":22.5,"r":10.5},{"kind":"model","p":7,"h":45,"r":7.5},{"kind":"model","p":7,"h":67.5,"r":4.5},{"kind":"model","p":7,"h":90,"r":2.5},{"kind":"model","p":7,"h":112.5,"r":1.5},{"kind":"model","p":7,"h":135,"r":1},{"kind":"model","p":7,"h":157.5,"r":1},{"kind":"model","p":7,"h":180,"r":1},
      {"kind":"model","p":8,"h":-180,"r":0.3},{"kind":"model","p":8,"h":-157.5,"r":0.3},{"kind":"model","p":8,"h":-135,"r":0.4},{"kind":"model","p":8,"h":-112.5,"r":0.7},{"kind":"model","p":8,"h":-90,"r":1.5},{"kind":"model","p":8,"h":-67.5,"r":3.5},{"kind":"model","p":8,"h":-45,"r":7.5},{"kind":"model","p":8,"h":-22.5,"r":11},{"kind":"model","p":8,"h":0,"r":12},{"kind":"model","p":8,"h":22.5,"r":9.5},{"kind":"model","p":8,"h":45,"r":5.5},{"kind":"model","p":8,"h":67.5,"r":2.5},{"kind":"model","p":8,"h":90,"r":1.2},{"kind":"model","p":8,"h":112.5,"r":0.6},{"kind":"model","p":8,"h":135,"r":0.4},{"kind":"model","p":8,"h":157.5,"r":0.3},{"kind":"model","p":8,"h":180,"r":0.3},

      {"kind":"goal","p":1,"g":-157.5},{"kind":"goal","p":2,"g":-112.5},{"kind":"goal","p":3,"g":-67.5},{"kind":"goal","p":4,"g":-22.5},
      {"kind":"goal","p":5,"g":22.5},{"kind":"goal","p":6,"g":67.5},{"kind":"goal","p":7,"g":112.5},{"kind":"goal","p":8,"g":157.5},
      {"kind":"legend","p":8}
    ],
    "neuron": [
      {"seg":1,"i":1,"x":160.7,"y":214},{"seg":1,"i":2,"x":161.5,"y":210},{"seg":1,"i":3,"x":162.5,"y":200},{"seg":1,"i":4,"x":163.3,"y":187},{"seg":1,"i":5,"x":165,"y":177},{"seg":1,"i":6,"x":166.7,"y":169},{"seg":1,"i":7,"x":167.5,"y":165},{"seg":1,"i":8,"x":165,"y":163},{"seg":1,"i":9,"x":160,"y":162},{"seg":1,"i":10,"x":155,"y":162.5},{"seg":1,"i":11,"x":150,"y":161},{"seg":1,"i":12,"x":146,"y":158},{"seg":1,"i":13,"x":140,"y":158.5},{"seg":1,"i":14,"x":133,"y":160},{"seg":1,"i":15,"x":127,"y":157},{"seg":1,"i":16,"x":123,"y":152},{"seg":1,"i":17,"x":121,"y":146},{"seg":1,"i":18,"x":122,"y":139},{"seg":1,"i":19,"x":126,"y":134},
      {"seg":2,"i":1,"x":147,"y":157},{"seg":2,"i":2,"x":149,"y":153},{"seg":2,"i":3,"x":152,"y":147},{"seg":2,"i":4,"x":155,"y":143},
      {"seg":3,"i":1,"x":143,"y":161},{"seg":3,"i":2,"x":151,"y":153},
      {"seg":4,"i":1,"x":144,"y":153},{"seg":4,"i":2,"x":150,"y":162},
      {"seg":5,"i":1,"x":121,"y":138},{"seg":5,"i":2,"x":129,"y":131},
      {"seg":6,"i":1,"x":120,"y":132},{"seg":6,"i":2,"x":128,"y":139},
      {"seg":7,"i":1,"x":164,"y":167},{"seg":7,"i":2,"x":170,"y":164},
      {"seg":8,"i":1,"x":146,"y":163},{"seg":8,"i":2,"x":148,"y":152},
      {"seg":9,"i":1,"x":124,"y":141},{"seg":9,"i":2,"x":119,"y":136}
    ],
    "wheel": [
      {"p":5,"o":1,"n":1},{"p":6,"o":2,"n":1},{"p":7,"o":3,"n":1},{"p":8,"o":4,"n":1},
      {"p":1,"o":5,"n":1},{"p":2,"o":6,"n":1},{"p":3,"o":7,"n":1},{"p":4,"o":8,"n":1}
    ]
  },
  "hconcat": [
    {
      "width": 240,
      "height": 189,
      "data": {"values": [{}]},
      "layer": [
        {"data": {"name": "neuron"}, "mark": {"type": "line", "strokeWidth": 2.5, "color": "#1a74b8"},
         "encoding": {"x": {"field": "x", "type": "quantitative", "scale": {"domain": [0, 240], "nice": false, "zero": false}, "axis": null},
                      "y": {"field": "y", "type": "quantitative", "scale": {"domain": [0, 189], "nice": false, "zero": false}, "axis": null},
                      "detail": {"field": "seg"}, "order": {"field": "i"}}},
        {"mark": {"type": "point", "filled": true, "size": 36, "color": "#1a74b8", "opacity": 1},
         "encoding": {"x": {"datum": 160.7, "type": "quantitative", "scale": {"domain": [0, 240], "nice": false, "zero": false}, "axis": null},
                      "y": {"datum": 214, "type": "quantitative", "scale": {"domain": [0, 189], "nice": false, "zero": false}, "axis": null}}},
        {"mark": {"type": "text", "text": "15 cells"},
         "encoding": {"x": {"datum": 125, "type": "quantitative", "scale": {"domain": [0, 240], "nice": false, "zero": false}, "axis": null},
                      "y": {"datum": 242, "type": "quantitative", "scale": {"domain": [0, 189], "nice": false, "zero": false}, "axis": null}}},
        {"mark": {"type": "text", "text": "Left"},
         "encoding": {"x": {"datum": 104.5, "type": "quantitative", "scale": {"domain": [0, 240], "nice": false, "zero": false}, "axis": null},
                      "y": {"datum": 202, "type": "quantitative", "scale": {"domain": [0, 189], "nice": false, "zero": false}, "axis": null}}},
        {"mark": {"type": "text", "text": "PFL3"},
         "encoding": {"x": {"datum": 104.5, "type": "quantitative", "scale": {"domain": [0, 240], "nice": false, "zero": false}, "axis": null},
                      "y": {"datum": 178, "type": "quantitative", "scale": {"domain": [0, 189], "nice": false, "zero": false}, "axis": null}}},
        {"mark": {"type": "text", "text": "Cell’s"},
         "encoding": {"x": {"datum": 134, "type": "quantitative", "scale": {"domain": [0, 240], "nice": false, "zero": false}, "axis": null},
                      "y": {"datum": 90, "type": "quantitative", "scale": {"domain": [0, 189], "nice": false, "zero": false}, "axis": null}}},
        {"mark": {"type": "text", "text": "preferred"},
         "encoding": {"x": {"datum": 134, "type": "quantitative", "scale": {"domain": [0, 240], "nice": false, "zero": false}, "axis": null},
                      "y": {"datum": 69, "type": "quantitative", "scale": {"domain": [0, 189], "nice": false, "zero": false}, "axis": null}}},
        {"mark": {"type": "text", "text": "heading"},
         "encoding": {"x": {"datum": 135, "type": "quantitative", "scale": {"domain": [0, 240], "nice": false, "zero": false}, "axis": null},
                      "y": {"datum": 49, "type": "quantitative", "scale": {"domain": [0, 189], "nice": false, "zero": false}, "axis": null}}},
        {"mark": {"type": "point", "shape": "square", "filled": true, "size": 121, "color": "#c46ae6", "opacity": 1},
         "encoding": {"x": {"datum": 36.7, "type": "quantitative", "scale": {"domain": [0, 240], "nice": false, "zero": false}, "axis": null},
                      "y": {"datum": 28.5, "type": "quantitative", "scale": {"domain": [0, 189], "nice": false, "zero": false}, "axis": null}}},
        {"mark": {"type": "text", "text": "Goal"},
         "encoding": {"x": {"datum": 71.5, "type": "quantitative", "scale": {"domain": [0, 240], "nice": false, "zero": false}, "axis": null},
                      "y": {"datum": 29, "type": "quantitative", "scale": {"domain": [0, 189], "nice": false, "zero": false}, "axis": null}}},
        {"mark": {"type": "text", "text": "angle"},
         "encoding": {"x": {"datum": 71, "type": "quantitative", "scale": {"domain": [0, 240], "nice": false, "zero": false}, "axis": null},
                      "y": {"datum": 8, "type": "quantitative", "scale": {"domain": [0, 189], "nice": false, "zero": false}, "axis": null}}},
        {"mark": {"type": "text", "text": "α", "font": "DejaVu Serif", "fontStyle": "italic", "fontSize": 19},
         "encoding": {"x": {"datum": 116.5, "type": "quantitative", "scale": {"domain": [0, 240], "nice": false, "zero": false}, "axis": null},
                      "y": {"datum": 25, "type": "quantitative", "scale": {"domain": [0, 189], "nice": false, "zero": false}, "axis": null}}},
        {"mark": {"type": "arc", "theta": -0.82, "theta2": 0, "radius": 13, "radius2": 13, "fillOpacity": 0, "stroke": "black", "strokeWidth": 1},
         "encoding": {"x": {"datum": 134.3, "type": "quantitative", "scale": {"domain": [0, 240], "nice": false, "zero": false}, "axis": null},
                      "y": {"datum": -12, "type": "quantitative", "scale": {"domain": [0, 189], "nice": false, "zero": false}, "axis": null}}},
        {"mark": {"type": "point", "shape": "M-0.025,0L-0.025,-0.7L-0.12,-0.66L0,-1L0.12,-0.66L0.025,-0.7L0.025,0Z", "filled": true, "size": 6400, "angle": -47, "color": "#c46ae6", "opacity": 1, "strokeWidth": 0},
         "encoding": {"x": {"datum": 134.3, "type": "quantitative", "scale": {"domain": [0, 240], "nice": false, "zero": false}, "axis": null},
                      "y": {"datum": -12, "type": "quantitative", "scale": {"domain": [0, 189], "nice": false, "zero": false}, "axis": null}}},
        {"mark": {"type": "point", "shape": "M-0.025,0L-0.025,-0.7L-0.12,-0.66L0,-1L0.12,-0.66L0.025,-0.7L0.025,0Z", "filled": true, "size": 6724, "color": "black", "opacity": 1, "strokeWidth": 0},
         "encoding": {"x": {"datum": 134.3, "type": "quantitative", "scale": {"domain": [0, 240], "nice": false, "zero": false}, "axis": null},
                      "y": {"datum": -12, "type": "quantitative", "scale": {"domain": [0, 189], "nice": false, "zero": false}, "axis": null}}},
        {"mark": {"type": "text", "text": "α", "font": "DejaVu Serif", "fontStyle": "italic", "fontSize": 19},
         "encoding": {"x": {"datum": 95, "type": "quantitative", "scale": {"domain": [0, 240], "nice": false, "zero": false}, "axis": null},
                      "y": {"datum": -28, "type": "quantitative", "scale": {"domain": [0, 189], "nice": false, "zero": false}, "axis": null}}},
        {"mark": {"type": "text", "text": "= 0"},
         "encoding": {"x": {"datum": 120, "type": "quantitative", "scale": {"domain": [0, 240], "nice": false, "zero": false}, "axis": null},
                      "y": {"datum": -28, "type": "quantitative", "scale": {"domain": [0, 189], "nice": false, "zero": false}, "axis": null}}},
        {"data": {"name": "wheel"}, "mark": {"type": "arc", "radius": 21.5, "radius2": 8, "stroke": "white", "strokeWidth": 1.5},
         "encoding": {"x": {"datum": 133, "type": "quantitative", "scale": {"domain": [0, 240], "nice": false, "zero": false}, "axis": null},
                      "y": {"datum": -66, "type": "quantitative", "scale": {"domain": [0, 189], "nice": false, "zero": false}, "axis": null},
                      "theta": {"field": "n", "type": "quantitative", "stack": true},
                      "order": {"field": "o"},
                      "color": {"field": "p", "type": "nominal", "scale": {"domain": [1, 2, 3, 4, 5, 6, 7, 8], "range": ["#4a1a63", "#6458b0", "#6f95c2", "#c5cdd3", "#d8c1b2", "#c77a5a", "#98304f", "#4d1847"]}, "legend": null}}},
        {"mark": {"type": "text", "text": "–90°", "align": "right"},
         "encoding": {"x": {"datum": 110, "type": "quantitative", "scale": {"domain": [0, 240], "nice": false, "zero": false}, "axis": null},
                      "y": {"datum": -66, "type": "quantitative", "scale": {"domain": [0, 189], "nice": false, "zero": false}, "axis": null}}},
        {"mark": {"type": "text", "text": "90°", "align": "left"},
         "encoding": {"x": {"datum": 160, "type": "quantitative", "scale": {"domain": [0, 240], "nice": false, "zero": false}, "axis": null},
                      "y": {"datum": -66, "type": "quantitative", "scale": {"domain": [0, 189], "nice": false, "zero": false}, "axis": null}}},
        {"mark": {"type": "text", "text": "+180°"},
         "encoding": {"x": {"datum": 133, "type": "quantitative", "scale": {"domain": [0, 240], "nice": false, "zero": false}, "axis": null},
                      "y": {"datum": -109, "type": "quantitative", "scale": {"domain": [0, 189], "nice": false, "zero": false}, "axis": null}}}
      ]
    },
    {
      "data": {"name": "main"},
      "facet": {"column": {"field": "p", "type": "ordinal", "title": null, "header": {"labels": false}}},
      "spacing": 16.4,
      "bounds": "flush",
      "title": {"text": "Heading aligned to preferred direction (°)", "orient": "bottom", "anchor": "middle", "fontSize": 21.5, "fontWeight": "normal", "font": "Liberation Sans", "color": "black", "offset": -34, "dx": -22},
      "spec": {
        "width": 77,
        "height": 189,
        "layer": [
          {
            "encoding": {
              "x": {"field": "h", "type": "quantitative", "scale": {"domain": [-180, 180], "nice": false, "zero": false}, "axis": {"values": [-180, 0, 180], "title": null}},
              "y": {"field": "r", "type": "quantitative", "scale": {"domain": [0, 80], "nice": false, "zero": false}, "axis": {"values": [0, 80], "title": "Spike rate (Hz)"}},
              "color": {"field": "p", "type": "nominal", "scale": {"domain": [1, 2, 3, 4, 5, 6, 7, 8], "range": ["#4a1a63", "#6458b0", "#6f95c2", "#c5cdd3", "#d8c1b2", "#c77a5a", "#98304f", "#4d1847"]}, "legend": null}
            },
            "layer": [
              {"transform": [{"filter": "datum.kind == 'cell'"}], "mark": {"type": "line", "strokeWidth": 1},
               "encoding": {"detail": {"field": "k"}}},
              {"transform": [{"filter": "datum.kind == 'cell'"}], "mark": {"type": "point", "filled": true, "size": 14, "opacity": 1}},
              {"transform": [{"filter": "datum.kind == 'model'"}], "mark": {"type": "line", "strokeWidth": 3.2, "interpolate": "monotone"}},
              {"transform": [{"filter": "datum.kind == 'mean'"}], "mark": {"type": "point", "filled": false, "size": 115, "strokeWidth": 2.8, "opacity": 1}}
            ]
          },
          {
            "encoding": {
              "x": {"datum": 0, "type": "quantitative", "scale": {"domain": [-180, 180], "nice": false, "zero": false}, "axis": {"values": [-180, 0, 180], "title": null}},
              "y": {"datum": 93.1, "type": "quantitative", "scale": {"domain": [0, 80], "nice": false, "zero": false}, "axis": {"values": [0, 80], "title": "Spike rate (Hz)"}}
            },
            "layer": [
              {"transform": [{"filter": "datum.kind == 'goal'"}],
               "mark": {"type": "point", "shape": "M-0.04,0L-0.04,-0.6L-0.2,-0.54L0,-1L0.2,-0.54L0.04,-0.6L0.04,0Z", "filled": true, "size": 2500, "opacity": 1, "strokeWidth": 0, "color": "#c46ae6"},
               "encoding": {"angle": {"field": "g", "type": "quantitative", "scale": null}}},
              {"transform": [{"filter": "datum.kind == 'goal'"}],
               "mark": {"type": "point", "shape": "M-0.04,0L-0.04,-0.6L-0.2,-0.54L0,-1L0.2,-0.54L0.04,-0.6L0.04,0Z", "filled": true, "size": 2304, "opacity": 1, "strokeWidth": 0, "color": "black"}},
              {"transform": [{"filter": "datum.kind == 'legend'"}],
               "mark": {"type": "point", "filled": false, "size": 50, "strokeWidth": 3, "opacity": 1, "color": "black"},
               "encoding": {"x": {"datum": -169.2}, "y": {"datum": -35.9}}},
              {"transform": [{"filter": "datum.kind == 'legend'"}],
               "mark": {"type": "text", "text": "Data", "align": "left", "fontSize": 20, "color": "black"},
               "encoding": {"x": {"datum": -52.4}, "y": {"datum": -35.9}}},
              {"transform": [{"filter": "datum.kind == 'legend'"}],
               "mark": {"type": "rule", "strokeWidth": 1.5, "color": "black"},
               "encoding": {"x": {"datum": -260}, "x2": {"datum": -112}, "y": {"datum": -44.7}}},
              {"transform": [{"filter": "datum.kind == 'legend'"}],
               "mark": {"type": "text", "text": "Model", "align": "left", "fontSize": 20, "color": "black"},
               "encoding": {"x": {"datum": -52.4}, "y": {"datum": -46.9}}}
            ]
          }
        ]
      }
    }
  ]
}
